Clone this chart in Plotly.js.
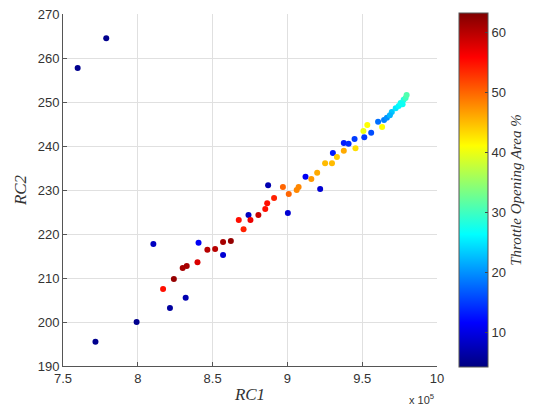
<!DOCTYPE html>
<html>
<head>
<meta charset="utf-8">
<script src="https://cdn.plot.ly/plotly-3.0.1.min.js"></script>
<style>html,body{margin:0;padding:0;background:#fff;}#chart{width:537px;height:414px;}</style>
</head>
<body>
<div id="chart"></div>
<script>
// RC1 values (x 10^5)
const rc1 = [
  7.598, 7.789, 7.717, 7.992, 8.215, 8.320, 8.104, 8.406, 8.570, 8.740,
  9.003, 8.871, 9.219, 9.121, 9.304, 9.377, 9.409, 9.449, 9.514, 9.560,
  9.606, 9.646, 9.665, 9.698, 9.724, 9.744, 9.757, 9.777, 9.790, 9.797,
  9.770, 9.685,
  8.169, 8.241, 8.300, 8.327, 8.399, 8.465, 8.517, 8.570, 8.622, 8.675,
  8.707, 8.753, 8.806, 8.852, 8.865, 8.911, 8.970, 9.009, 9.062, 9.075,
  9.160, 9.199, 9.252, 9.298, 9.331, 9.377, 9.455, 9.508, 9.534, 9.633
];
// RC2 values
const rc2 = [
  257.7, 264.5, 195.5, 200.0, 203.2, 205.5, 217.7, 218.0, 215.2, 224.3,
  224.8, 231.1, 230.2, 233.0, 238.4, 240.7, 240.5, 241.6, 242.0, 243.0,
  245.5, 245.9, 246.4, 247.7, 248.6, 249.1, 249.8, 250.5, 250.9, 251.6,
  249.5, 247.0,
  207.5, 209.8, 212.3, 212.7, 213.6, 216.4, 216.6, 218.2, 218.4, 223.2,
  221.1, 223.2, 224.3, 225.7, 227.0, 228.2, 230.7, 229.1, 230.0, 230.7,
  232.5, 233.9, 236.1, 236.1, 237.5, 238.9, 239.5, 243.4, 244.8, 244.3
];
// Throttle opening area %
const throttle = [
  5, 5, 5, 5, 6, 7, 8, 11, 9, 8,
  9, 7, 9, 11, 13, 13, 14, 15, 15, 16,
  18, 19, 20, 23, 25, 26, 27, 28, 30, 31,
  27, 22,
  55, 62, 61, 61, 58, 60, 60, 61, 62, 55,
  54, 57, 59, 55, 55, 54, 50, 50, 48, 48,
  47, 46, 45, 45, 44, 46, 43, 40, 41, 41
];
const xTicks = [7.5, 8, 8.5, 9, 9.5, 10];
const xTickText = ['7.5', '8', '8.5', '9', '9.5', '10'];
const yTicks = [190, 200, 210, 220, 230, 240, 250, 260, 270];
const cTicks = [10, 20, 30, 40, 50, 60];

const jet = [
  [0, 'rgb(0,0,128)'],
  [0.125, 'rgb(0,0,255)'],
  [0.375, 'rgb(0,255,255)'],
  [0.625, 'rgb(255,255,0)'],
  [0.875, 'rgb(255,0,0)'],
  [1, 'rgb(128,0,0)']
];

const trace = {
  x: rc1, y: rc2, mode: 'markers', type: 'scatter',
  marker: {
    size: 6, color: throttle, colorscale: jet, cmin: 4.2, cmax: 63.2,
    line: {width: 0},
    colorbar: {
      x: 1.06, xanchor: 'left', xpad: 0, ypad: 0,
      y: 0.5, yanchor: 'middle', len: 1.006, lenmode: 'fraction',
      thickness: 29, outlinewidth: 1, outlinecolor: '#555',
      tickvals: cTicks, ticks: 'inside', ticklen: 3, tickcolor: '#444',
      tickfont: {family: 'Arial, Liberation Sans, sans-serif', size: 13, color: '#333'},
      title: {text: 'Throttle Opening Area %', side: 'right',
        font: {family: 'Liberation Serif, DejaVu Serif, serif', size: 15, color: '#333', style: 'italic'}}
    }
  },
  hoverinfo: 'none', showlegend: false
};

const axisFont = {family: 'Arial, Liberation Sans, sans-serif', size: 13, color: '#333'};
const layout = {
  width: 537, height: 414,
  margin: {l: 63, r: 93, t: 14, b: 48},
  paper_bgcolor: '#fff', plot_bgcolor: '#fff',
  xaxis: {
    range: [7.5, 10], tickvals: xTicks, ticktext: xTickText,
    showgrid: true, gridcolor: '#e0e0e0', gridwidth: 1,
    showline: true, linecolor: '#555', linewidth: 1, mirror: false,
    ticks: 'inside', ticklen: 4, tickcolor: '#555',
    tickfont: axisFont, zeroline: false,
    title: {text: 'RC1', standoff: 3,
      font: {family: 'Liberation Serif, DejaVu Serif, serif', size: 17, color: '#333', style: 'italic'}}
  },
  yaxis: {
    range: [190, 270], tickvals: yTicks,
    showgrid: true, gridcolor: '#e0e0e0', gridwidth: 1,
    showline: true, linecolor: '#555', linewidth: 1, mirror: false,
    ticks: 'inside', ticklen: 4, tickcolor: '#555',
    tickfont: axisFont, zeroline: false,
    title: {text: 'RC2', standoff: 6,
      font: {family: 'Liberation Serif, DejaVu Serif, serif', size: 17, color: '#333', style: 'italic'}}
  },
  annotations: [{
    text: 'x 10<sup>5</sup>', xref: 'paper', yref: 'paper',
    x: 0.958, y: -0.095, xanchor: 'center', yanchor: 'middle', showarrow: false,
    font: {family: 'Arial, Liberation Sans, sans-serif', size: 11, color: '#333'}
  }]
};

Plotly.newPlot('chart', [trace], layout, {displayModeBar: false, staticPlot: true});
</script>
</body>
</html>
